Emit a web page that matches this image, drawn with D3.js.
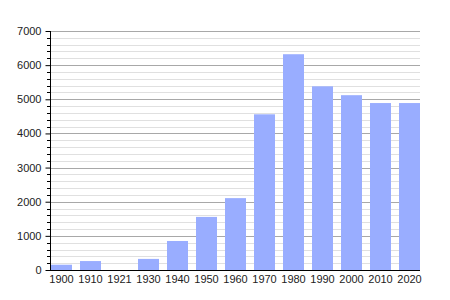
<!DOCTYPE html>
<html>
<head>
<meta charset="utf-8">
<script src="https://cdn.jsdelivr.net/npm/d3@7"></script>
<style>
  body { margin: 0; background: #fff; }
  text { font-family: "Liberation Sans", Arial, sans-serif; font-size: 11px; fill: #222; }
</style>
</head>
<body>
<div id="chart"></div>
<script>
// population by census year
const years = ["1900", "1910", "1921", "1930", "1940", "1950", "1960", "1970", "1980", "1990", "2000", "2010", "2020"];
const population = [155, 262, 0, 325, 850, 1555, 2105, 4560, 6320, 5380, 5120, 4890, 4890];
const yTicks = [0, 1000, 2000, 3000, 4000, 5000, 6000, 7000];

const width = 450, height = 300;

let svg = d3.select("#chart")
    .append("svg")
    .attr("width", width)
    .attr("height", height);

let x = d3.scaleBand()
    .domain(years)
    .range([51, 420])
    .paddingInner(8 / 29)
    .paddingOuter(0)
    .align(0);

let y = d3.scaleLinear()
    .domain([0, 7000])
    .range([270, 31]);

// minor grid every 200
let minor = d3.range(200, 7001, 200).filter(v => v % 1000 != 0);
svg.append("g").selectAll("line").data(minor)
    .enter().append("line")
    .attr("x1", 50).attr("x2", 420)
    .attr("y1", d => Math.round(y(d)) + 0.5)
    .attr("y2", d => Math.round(y(d)) + 0.5)
    .attr("stroke", "#e0e0e0");

// major grid
svg.append("g").selectAll("line").data(yTicks.slice(1))
    .enter().append("line")
    .attr("x1", 50).attr("x2", 420)
    .attr("y1", d => Math.round(y(d)) + 0.5)
    .attr("y2", d => Math.round(y(d)) + 0.5)
    .attr("stroke", "#a8a8a8");

svg.selectAll("rect").data(population)
    .enter()
    .append("rect")
    .attr("fill", "#99adff")
    .attr("x", (d, i) => x(years[i]))
    .attr("y", d => y(d))
    .attr("width", x.bandwidth())
    .attr("height", d => y(0) - y(d));

// minor ticks on the axis
svg.append("g").selectAll("line").data(minor)
    .enter().append("line")
    .attr("x1", 47).attr("x2", 50)
    .attr("y1", d => Math.round(y(d)) + 0.5)
    .attr("y2", d => Math.round(y(d)) + 0.5)
    .attr("stroke", "#000");

// left axis
svg.append("g")
    .attr("transform", "translate(50.5,0)")
    .call(d3.axisLeft(y).tickValues(yTicks).tickSize(5).tickPadding(4).tickFormat(d3.format("d")))
    .call(g => g.select(".domain").attr("d", `M0,${y(7000)}V${y(0)}`))
    .call(g => g.selectAll("text").style("font-size", "11px"));

// bottom axis
svg.append("g")
    .attr("transform", "translate(0,270.5)")
    .call(d3.axisBottom(x).tickSize(0).tickPadding(5))
    .call(g => g.select(".domain").attr("d", "M50,0H420"))
    .call(g => g.selectAll("text").style("font-size", "11px"));
</script>
</body>
</html>
